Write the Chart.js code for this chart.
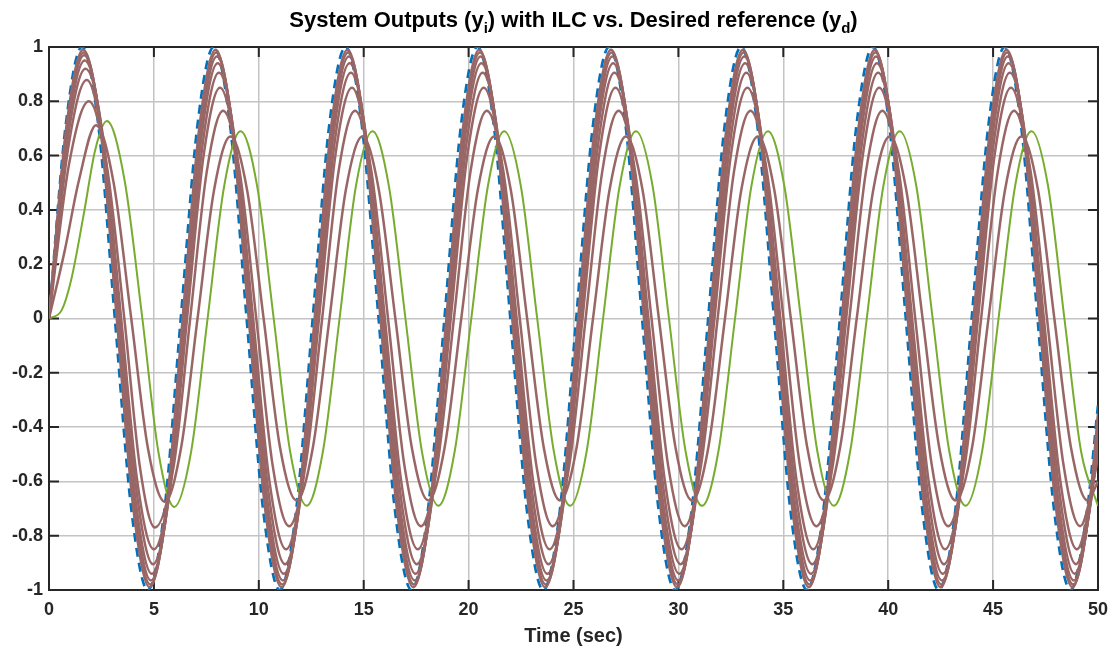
<!DOCTYPE html>
<html lang="en">
<head>
    <meta charset="UTF-8">
    <title>System Outputs with ILC</title>
    <script src="https://cdn.jsdelivr.net/npm/chart.js"></script>
    <style>
        html, body { margin: 0; padding: 0; background: #fff; }
    </style>
</head>
<body>
    <canvas id="ilcChart" width="1117" height="653"></canvas>

    <script>
        // Axis ticks
        var xTicks = [0, 5, 10, 15, 20, 25, 30, 35, 40, 45, 50];
        var yTicks = [-1, -0.8, -0.6, -0.4, -0.2, 0, 0.2, 0.4, 0.6, 0.8, 1];

        // Desired reference y_d : [time, value], read every eighth of a period
        var yDesired = [[0,0],[0.79,0.707],[1.57,1],[2.36,0.707],[3.14,0],[3.93,-0.707],[4.71,-1],[5.50,-0.707],
            [6.28,0],[7.07,0.707],[7.85,1],[8.64,0.707],[9.42,0],[10.21,-0.707],[11.00,-1],[11.78,-0.707],
            [12.57,0],[13.35,0.707],[14.14,1],[14.92,0.707],[15.71,0],[16.49,-0.707],[17.28,-1],[18.06,-0.707],
            [18.85,0],[19.63,0.707],[20.42,1],[21.21,0.707],[21.99,0],[22.78,-0.707],[23.56,-1],[24.35,-0.707],
            [25.13,0],[25.92,0.707],[26.70,1],[27.49,0.707],[28.27,0],[29.06,-0.707],[29.85,-1],[30.63,-0.707],
            [31.42,0],[32.20,0.707],[32.99,1],[33.77,0.707],[34.56,0],[35.34,-0.707],[36.13,-1],[36.91,-0.707],
            [37.70,0],[38.48,0.707],[39.27,1],[40.06,0.707],[40.84,0],[41.63,-0.707],[42.41,-1],[43.20,-0.707],
            [43.98,0],[44.77,0.707],[45.55,1],[46.34,0.707],[47.12,0],[47.91,-0.707],[48.69,-1],[49.48,-0.707],
            [50,-0.32]];

        // First iteration (green)
        var yIter1 = [[0,0],[0.6,0.03],[1.05,0.14],[1.67,0.39],[2.2,0.62],[2.76,0.727],[3.6,0.51],[4.45,0],
            [5.21,-0.49],[5.97,-0.694],[6.78,-0.488],[7.56,0],[8.35,0.488],[9.13,0.69],[9.92,0.488],[10.71,0],
            [11.49,-0.488],[12.28,-0.69],[13.06,-0.488],[13.85,0],[14.63,0.488],[15.42,0.69],[16.20,0.488],
            [16.99,0],[17.77,-0.488],[18.56,-0.69],[19.34,-0.488],[20.13,0],[20.92,0.488],[21.70,0.69],
            [22.49,0.488],[23.27,0],[24.06,-0.488],[24.84,-0.69],[25.63,-0.488],[26.41,0],[27.20,0.488],
            [27.98,0.69],[28.77,0.488],[29.55,0],[30.34,-0.488],[31.13,-0.69],[31.91,-0.488],[32.70,0],
            [33.48,0.488],[34.27,0.69],[35.05,0.488],[35.84,0],[36.62,-0.488],[37.41,-0.69],[38.19,-0.488],
            [38.98,0],[39.77,0.488],[40.55,0.69],[41.34,0.488],[42.12,0],[42.91,-0.488],[43.69,-0.69],
            [44.48,-0.488],[45.26,0],[46.05,0.488],[46.83,0.69],[47.62,0.488],[48.40,0],[49.19,-0.488],
            [50,-0.69]];

        // Later iterations (brown), converging to y_d
        var yIter2 = [[0,0],[0.75,0.25],[1.43,0.51],[2.24,0.712],[3.08,0.5],[3.92,0],[4.72,-0.48],[5.52,-0.675],
            [6.30,-0.474],[7.08,0],[7.87,0.474],[8.65,0.67],[9.44,0.474],[10.23,0],[11.01,-0.474],[11.80,-0.67],
            [12.58,-0.474],[13.37,0],[14.15,0.474],[14.94,0.67],[15.72,0.474],[16.51,0],[17.29,-0.474],
            [18.08,-0.67],[18.86,-0.474],[19.65,0],[20.44,0.474],[21.22,0.67],[22.01,0.474],[22.79,0],
            [23.58,-0.474],[24.36,-0.67],[25.15,-0.474],[25.93,0],[26.72,0.474],[27.50,0.67],[28.29,0.474],
            [29.07,0],[29.86,-0.474],[30.65,-0.67],[31.43,-0.474],[32.22,0],[33.00,0.474],[33.79,0.67],
            [34.57,0.474],[35.36,0],[36.14,-0.474],[36.93,-0.67],[37.71,-0.474],[38.50,0],[39.29,0.474],
            [40.07,0.67],[40.86,0.474],[41.64,0],[42.43,-0.474],[43.21,-0.67],[44.00,-0.474],[44.78,0],
            [45.57,0.474],[46.35,0.67],[47.14,0.474],[47.92,0],[48.71,-0.474],[49.50,-0.67],[50,-0.6]];
        var yIter3 = [[0,0],[0.95,0.566],[1.9,0.80],[2.75,0.566],[3.59,0],[4.32,-0.54],[5.05,-0.77],
            [5.95,-0.541],[6.73,0],[7.52,0.541],[8.30,0.765],[9.09,0.541],[9.88,0],[10.66,-0.541],[11.45,-0.765],
            [12.23,-0.541],[13.02,0],[13.80,0.541],[14.59,0.765],[15.37,0.541],[16.16,0],[16.94,-0.541],
            [17.73,-0.765],[18.51,-0.541],[19.30,0],[20.09,0.541],[20.87,0.765],[21.66,0.541],[22.44,0],
            [23.23,-0.541],[24.01,-0.765],[24.80,-0.541],[25.58,0],[26.37,0.541],[27.15,0.765],[27.94,0.541],
            [28.72,0],[29.51,-0.541],[30.30,-0.765],[31.08,-0.541],[31.87,0],[32.65,0.541],[33.44,0.765],
            [34.22,0.541],[35.01,0],[35.79,-0.541],[36.58,-0.765],[37.36,-0.541],[38.15,0],[38.94,0.541],
            [39.72,0.765],[40.51,0.541],[41.29,0],[42.08,-0.541],[42.86,-0.765],[43.65,-0.541],[44.43,0],
            [45.22,0.541],[46.00,0.765],[46.79,0.541],[47.57,0],[48.36,-0.541],[49.15,-0.765],[49.93,-0.541],
            [50,-0.51]];
        var yIter4 = [[0,0],[0.9,0.62],[1.8,0.878],[2.62,0.62],[3.44,0],[4.21,-0.601],[5.00,-0.85],
            [5.80,-0.601],[6.58,0],[7.37,0.601],[8.15,0.85],[8.94,0.601],[9.73,0],[10.51,-0.601],[11.30,-0.85],
            [12.08,-0.601],[12.87,0],[13.65,0.601],[14.44,0.85],[15.22,0.601],[16.01,0],[16.79,-0.601],
            [17.58,-0.85],[18.36,-0.601],[19.15,0],[19.94,0.601],[20.72,0.85],[21.51,0.601],[22.29,0],
            [23.08,-0.601],[23.86,-0.85],[24.65,-0.601],[25.43,0],[26.22,0.601],[27.00,0.85],[27.79,0.601],
            [28.57,0],[29.36,-0.601],[30.15,-0.85],[30.93,-0.601],[31.72,0],[32.50,0.601],[33.29,0.85],
            [34.07,0.601],[34.86,0],[35.64,-0.601],[36.43,-0.85],[37.21,-0.601],[38.00,0],[38.79,0.601],
            [39.57,0.85],[40.36,0.601],[41.14,0],[41.93,-0.601],[42.71,-0.85],[43.50,-0.601],[44.28,0],
            [45.07,0.601],[45.85,0.85],[46.64,0.601],[47.42,0],[48.21,-0.601],[49.00,-0.85],[49.78,-0.601],
            [50,-0.47]];
        var yIter5 = [[0,0],[0.87,0.65],[1.74,0.92],[2.61,0.65],[3.39,0],[4.18,-0.64],[4.96,-0.905],
            [5.75,-0.64],[6.53,0],[7.32,0.64],[8.10,0.905],[8.89,0.64],[9.68,0],[10.46,-0.64],[11.25,-0.905],
            [12.03,-0.64],[12.82,0],[13.60,0.64],[14.39,0.905],[15.17,0.64],[15.96,0],[16.74,-0.64],
            [17.53,-0.905],[18.31,-0.64],[19.10,0],[19.89,0.64],[20.67,0.905],[21.46,0.64],[22.24,0],
            [23.03,-0.64],[23.81,-0.905],[24.60,-0.64],[25.38,0],[26.17,0.64],[26.95,0.905],[27.74,0.64],
            [28.52,0],[29.31,-0.64],[30.10,-0.905],[30.88,-0.64],[31.67,0],[32.45,0.64],[33.24,0.905],
            [34.02,0.64],[34.81,0],[35.59,-0.64],[36.38,-0.905],[37.16,-0.64],[37.95,0],[38.74,0.64],
            [39.52,0.905],[40.31,0.64],[41.09,0],[41.88,-0.64],[42.66,-0.905],[43.45,-0.64],[44.23,0],
            [45.02,0.64],[45.80,0.905],[46.59,0.64],[47.37,0],[48.16,-0.64],[48.95,-0.905],[49.73,-0.64],
            [50,-0.45]];
        var yIter6 = [[0,0],[0.85,0.67],[1.70,0.95],[2.55,0.67],[3.33,0],[4.12,-0.665],[4.90,-0.94],
            [5.69,-0.665],[6.47,0],[7.26,0.665],[8.04,0.94],[8.83,0.665],[9.62,0],[10.40,-0.665],[11.19,-0.94],
            [11.97,-0.665],[12.76,0],[13.54,0.665],[14.33,0.94],[15.11,0.665],[15.90,0],[16.68,-0.665],
            [17.47,-0.94],[18.25,-0.665],[19.04,0],[19.83,0.665],[20.61,0.94],[21.40,0.665],[22.18,0],
            [22.97,-0.665],[23.75,-0.94],[24.54,-0.665],[25.32,0],[26.11,0.665],[26.89,0.94],[27.68,0.665],
            [28.46,0],[29.25,-0.665],[30.04,-0.94],[30.82,-0.665],[31.61,0],[32.39,0.665],[33.18,0.94],
            [33.96,0.665],[34.75,0],[35.53,-0.665],[36.32,-0.94],[37.10,-0.665],[37.89,0],[38.68,0.665],
            [39.46,0.94],[40.25,0.665],[41.03,0],[41.82,-0.665],[42.60,-0.94],[43.39,-0.665],[44.17,0],
            [44.96,0.665],[45.74,0.94],[46.53,0.665],[47.31,0],[48.10,-0.665],[48.89,-0.94],[49.67,-0.665],
            [50,-0.42]];
        var yIter7 = [[0,0],[0.84,0.685],[1.67,0.97],[2.51,0.685],[3.29,0],[4.08,-0.682],[4.86,-0.965],
            [5.65,-0.682],[6.43,0],[7.22,0.682],[8.00,0.965],[8.79,0.682],[9.58,0],[10.36,-0.682],[11.15,-0.965],
            [11.93,-0.682],[12.72,0],[13.50,0.682],[14.29,0.965],[15.07,0.682],[15.86,0],[16.64,-0.682],
            [17.43,-0.965],[18.21,-0.682],[19.00,0],[19.79,0.682],[20.57,0.965],[21.36,0.682],[22.14,0],
            [22.93,-0.682],[23.71,-0.965],[24.50,-0.682],[25.28,0],[26.07,0.682],[26.85,0.965],[27.64,0.682],
            [28.42,0],[29.21,-0.682],[30.00,-0.965],[30.78,-0.682],[31.57,0],[32.35,0.682],[33.14,0.965],
            [33.92,0.682],[34.71,0],[35.49,-0.682],[36.28,-0.965],[37.06,-0.682],[37.85,0],[38.64,0.682],
            [39.42,0.965],[40.21,0.682],[40.99,0],[41.78,-0.682],[42.56,-0.965],[43.35,-0.682],[44.13,0],
            [44.92,0.682],[45.70,0.965],[46.49,0.682],[47.27,0],[48.06,-0.682],[48.85,-0.965],[49.63,-0.682],
            [50,-0.39]];
        var yIter8 = [[0,0],[0.83,0.693],[1.65,0.98],[2.48,0.693],[3.26,0],[4.05,-0.693],[4.83,-0.98],
            [5.62,-0.693],[6.40,0],[7.19,0.693],[7.97,0.98],[8.76,0.693],[9.55,0],[10.33,-0.693],[11.12,-0.98],
            [11.90,-0.693],[12.69,0],[13.47,0.693],[14.26,0.98],[15.04,0.693],[15.83,0],[16.61,-0.693],
            [17.40,-0.98],[18.18,-0.693],[18.97,0],[19.76,0.693],[20.54,0.98],[21.33,0.693],[22.11,0],
            [22.90,-0.693],[23.68,-0.98],[24.47,-0.693],[25.25,0],[26.04,0.693],[26.82,0.98],[27.61,0.693],
            [28.39,0],[29.18,-0.693],[29.97,-0.98],[30.75,-0.693],[31.54,0],[32.32,0.693],[33.11,0.98],
            [33.89,0.693],[34.68,0],[35.46,-0.693],[36.25,-0.98],[37.03,-0.693],[37.82,0],[38.61,0.693],
            [39.39,0.98],[40.18,0.693],[40.96,0],[41.75,-0.693],[42.53,-0.98],[43.32,-0.693],[44.10,0],
            [44.89,0.693],[45.67,0.98],[46.46,0.693],[47.24,0],[48.03,-0.693],[48.82,-0.98],[49.60,-0.693],
            [50,-0.37]];
        var yIter9 = [[0,0],[0.82,0.70],[1.63,0.99],[2.45,0.70],[3.23,0],[4.02,-0.70],[4.80,-0.99],
            [5.59,-0.70],[6.37,0],[7.16,0.70],[7.94,0.99],[8.73,0.70],[9.52,0],[10.30,-0.70],[11.09,-0.99],
            [11.87,-0.70],[12.66,0],[13.44,0.70],[14.23,0.99],[15.01,0.70],[15.80,0],[16.58,-0.70],
            [17.37,-0.99],[18.15,-0.70],[18.94,0],[19.73,0.70],[20.51,0.99],[21.30,0.70],[22.08,0],
            [22.87,-0.70],[23.65,-0.99],[24.44,-0.70],[25.22,0],[26.01,0.70],[26.79,0.99],[27.58,0.70],
            [28.36,0],[29.15,-0.70],[29.94,-0.99],[30.72,-0.70],[31.51,0],[32.29,0.70],[33.08,0.99],
            [33.86,0.70],[34.65,0],[35.43,-0.70],[36.22,-0.99],[37.00,-0.70],[37.79,0],[38.58,0.70],
            [39.36,0.99],[40.15,0.70],[40.93,0],[41.72,-0.70],[42.50,-0.99],[43.29,-0.70],[44.07,0],
            [44.86,0.70],[45.64,0.99],[46.43,0.70],[47.21,0],[48.00,-0.70],[48.79,-0.99],[49.57,-0.70],
            [50,-0.35]];

        var brownRuns = [yIter2, yIter3, yIter4, yIter5, yIter6, yIter7, yIter8, yIter9];

        var fam = '"Liberation Sans", Arial, Helvetica, sans-serif';
        var axisColor = '#262626';
        var brown = '#996666';

        function toXY(pairs) {
            return pairs.map(function (p) { return { x: p[0], y: p[1] }; });
        }

        // title with subscripts, drawn as text pieces
        var titleParts = [
            ['System Outputs (y', false], ['i', true],
            [') with ILC vs. Desired reference (y', false], ['d', true], [')', false]
        ];

        var titlePlugin = {
            id: 'subTitle',
            afterDraw: function (chart) {
                var ctx = chart.ctx, area = chart.chartArea;
                var big = 'bold 22px ' + fam, small = 'bold 15px ' + fam;
                ctx.save();
                var total = 0;
                titleParts.forEach(function (p) {
                    ctx.font = p[1] ? small : big;
                    total += ctx.measureText(p[0]).width;
                });
                var x = (area.left + area.right) / 2 - total / 2;
                var base = 27;
                ctx.fillStyle = '#000';
                ctx.textBaseline = 'alphabetic';
                ctx.textAlign = 'left';
                titleParts.forEach(function (p) {
                    ctx.font = p[1] ? small : big;
                    ctx.fillText(p[0], x, p[1] ? base + 6 : base);
                    x += ctx.measureText(p[0]).width;
                });
                ctx.restore();
            }
        };

        // MATLAB style box with inward ticks on all four sides
        var boxPlugin = {
            id: 'boxTicks',
            beforeDatasetsDraw: function (chart) {
                var ctx = chart.ctx, a = chart.chartArea;
                var xs = chart.scales.x, ys = chart.scales.y;
                var len = 10;
                ctx.save();
                ctx.strokeStyle = axisColor;
                ctx.lineWidth = 2;
                ctx.strokeRect(a.left, a.top, a.right - a.left, a.bottom - a.top);
                ctx.beginPath();
                xTicks.forEach(function (v) {
                    var px = xs.getPixelForValue(v);
                    ctx.moveTo(px, a.bottom); ctx.lineTo(px, a.bottom - len);
                    ctx.moveTo(px, a.top); ctx.lineTo(px, a.top + len);
                });
                yTicks.forEach(function (v) {
                    var py = ys.getPixelForValue(v);
                    ctx.moveTo(a.left, py); ctx.lineTo(a.left + len, py);
                    ctx.moveTo(a.right, py); ctx.lineTo(a.right - len, py);
                });
                ctx.stroke();
                ctx.restore();
            }
        };

        var datasets = [{
            label: 'y_d',
            data: toXY(yDesired),
            borderColor: '#0072BD',
            borderWidth: 2.7,
            borderDash: [9, 6],
            order: 20
        }, {
            label: 'iteration 1',
            data: toXY(yIter1),
            borderColor: '#77AC30',
            borderWidth: 2,
            order: 15
        }];
        brownRuns.forEach(function (run, i) {
            datasets.push({
                label: 'iteration ' + (i + 2),
                data: toXY(run),
                borderColor: brown,
                borderWidth: 2.5,
                order: 10 - i
            });
        });
        datasets.forEach(function (d) {
            d.pointRadius = 0;
            d.fill = false;
            d.cubicInterpolationMode = 'monotone';
        });

        var ctx = document.getElementById('ilcChart').getContext('2d');
        var ilcChart = new Chart(ctx, {
            type: 'line',
            data: { datasets: datasets },
            options: {
                responsive: false,
                animation: false,
                layout: { padding: { top: 47, right: 18, bottom: 0, left: 0 } },
                plugins: {
                    legend: { display: false },
                    tooltip: { enabled: false },
                    title: { display: false }
                },
                scales: {
                    x: {
                        type: 'linear',
                        min: 0,
                        max: 50,
                        afterBuildTicks: function (scale) {
                            scale.ticks = xTicks.map(function (v) { return { value: v }; });
                        },
                        afterFit: function (scale) { scale.height = 63; },
                        ticks: {
                            autoSkip: false,
                            maxRotation: 0,
                            padding: 9,
                            color: axisColor,
                            font: { family: fam, size: 18, weight: 'bold' },
                            callback: function (v) { return String(Math.round(v)); }
                        },
                        grid: { color: '#c4c4c4', lineWidth: 1.5, drawTicks: false },
                        border: { display: false },
                        title: {
                            display: true,
                            text: 'Time (sec)',
                            color: axisColor,
                            font: { family: fam, size: 20, weight: 'bold' },
                            padding: { top: 0, bottom: 5 }
                        }
                    },
                    y: {
                        min: -1,
                        max: 1,
                        afterBuildTicks: function (scale) {
                            scale.ticks = yTicks.map(function (v) { return { value: v }; });
                        },
                        afterFit: function (scale) { scale.width = 49; },
                        ticks: {
                            autoSkip: false,
                            padding: 6,
                            color: axisColor,
                            font: { family: fam, size: 18, weight: 'bold' },
                            callback: function (v) { return String(Math.round(v * 10) / 10); }
                        },
                        grid: { color: '#c4c4c4', lineWidth: 1.5, drawTicks: false },
                        border: { display: false }
                    }
                }
            },
            plugins: [boxPlugin, titlePlugin]
        });
    </script>
</body>
</html>
